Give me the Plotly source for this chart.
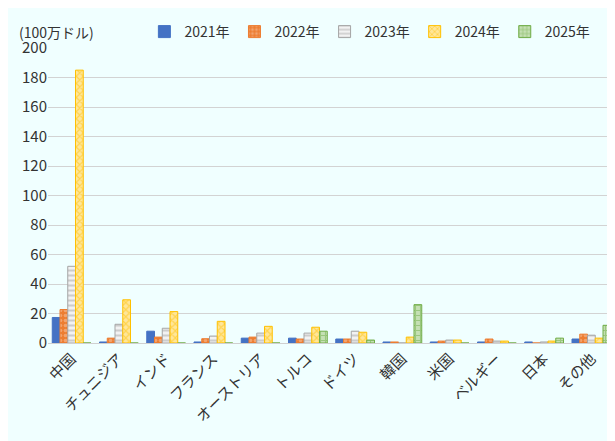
import plotly.graph_objects as go

categories = ["中国","チュニジア","インド","フランス","オーストリア","トルコ","ドイツ","韓国","米国","ベルギー","日本","その他"]
y2021 = [17.3,0.7,8,0.7,3.3,3.3,2.7,0.7,0.7,0.7,0.7,2.7]
y2022 = [22.7,3.3,4,2.9,4,2.7,2.7,0.7,1.3,2.7,0,6]
y2023 = [52,12.7,10,4.7,6.7,6.7,8,0,2,1.3,0.7,5.3]
y2024 = [185,29.3,21.3,14.7,11.3,10.7,7.3,4,2,1.3,1.3,3.3]
y2025 = [0,0,0,0,0,8,2,26,0,0,3.3,12]

series = [
    ("2021年", y2021, "#4472C4", "#4472C4", "", "#4472C4"),
    ("2022年", y2022, "#ED7D31", "#ED7D31", ".", "#F8CBAD"),
    ("2023年", y2023, "#F2F2F2", "#A5A5A5", "-", "#A5A5A5"),
    ("2024年", y2024, "#FFE699", "#FFC000", "x", "#FFC000"),
    ("2025年", y2025, "#C5E0B4", "#70AD47", "+", "#70AD47"),
]
fig = go.Figure()
for name, vals, bg, line, shape, fg in series:
    fig.add_trace(go.Bar(
        name=name, x=categories, y=vals,
        marker=dict(color=bg, line=dict(color=line, width=1),
                    pattern=dict(shape=shape, fgcolor=fg, bgcolor=bg, size=5, solidity=0.4)),
    ))
fig.update_layout(
    width=615, height=441, barmode="group", bargap=0.18, bargroupgap=0,
    paper_bgcolor="#F0FFFF", plot_bgcolor="#F0FFFF",
    font=dict(family="Noto Sans CJK JP", size=14, color="#333"),
    margin=dict(l=40, r=8, t=37, b=106),
    showlegend=True,
    legend=dict(orientation="h", x=0.17, y=1.0, xanchor="left", yanchor="bottom",
                font=dict(size=14), itemwidth=30, traceorder="normal", tracegroupgap=0,
                bgcolor="rgba(0,0,0,0)"),
    xaxis=dict(tickangle=-45, showline=True, linecolor="#D0D0D0", ticks="", tickfont=dict(size=15)),
    yaxis=dict(range=[0, 200], dtick=20, gridcolor="#D3D3D3", zeroline=False, ticks="", tickfont=dict(size=15)),
    annotations=[dict(text="(100万ドル)", xref="paper", yref="paper", x=-0.055, y=1.0,
                      xanchor="left", yanchor="bottom", showarrow=False, font=dict(size=14), yshift=4)],
)
fig.write_html("out.html")
